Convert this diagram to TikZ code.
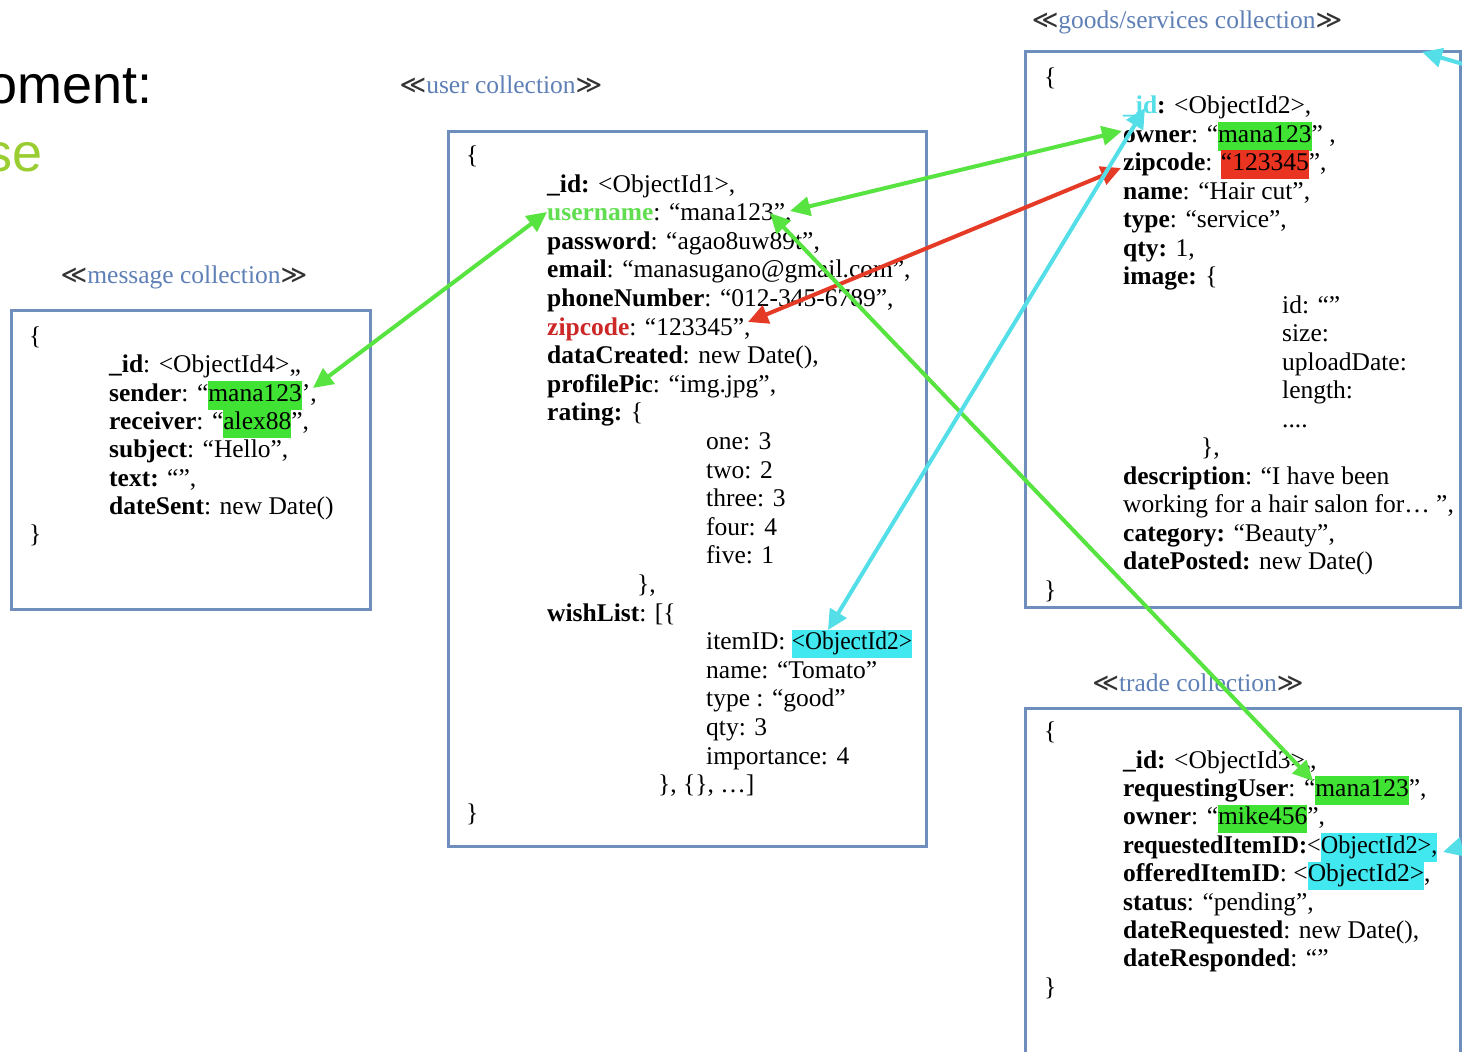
\documentclass[tikz,border=0pt]{standalone}
\usepackage{fontspec}
\setmainfont{Liberation Serif}
\newfontfamily\slidefont{Liberation Sans}
\newfontfamily\symfont{DejaVu Sans}
\usetikzlibrary{arrows.meta}
\definecolor{boxblue}{RGB}{110,142,190}
\definecolor{labelblue}{RGB}{95,128,182}
\definecolor{hlgreen}{RGB}{64,226,52}
\definecolor{hlred}{RGB}{232,52,32}
\definecolor{hlcyan}{RGB}{66,232,240}
\definecolor{argreen}{RGB}{88,228,64}
\definecolor{arred}{RGB}{228,58,38}
\definecolor{arcyan}{RGB}{84,222,232}
\definecolor{keygreen}{RGB}{96,222,80}
\definecolor{keyred}{RGB}{205,40,40}
\definecolor{slidegreen}{RGB}{154,205,50}
\newcommand\docfont{\fontsize{25.5}{28.6}\selectfont}
\newcommand\hlbox[2]{{\setlength\fboxsep{0pt}\colorbox{#1}{\strut #2}}}
\newcommand\hlg[1]{\hlbox{hlgreen}{#1}}
\newcommand\hlr[1]{\hlbox{hlred}{#1}}
\newcommand\hlc[1]{\hlbox{hlcyan}{#1}}
\newcommand\lsym{{\symfont\color{black!80}≪}}
\newcommand\rsym{{\symfont\color{black!80}≫}}
\newcommand\putline[4]{\node[txt] (#1) at (#2,#3) {#4};}
\tikzset{
  txt/.style={anchor=base west, inner sep=0pt, font=\docfont, text=black},
  collabel/.style={anchor=base, inner sep=0pt, font=\docfont, text=labelblue},
  colbox/.style={draw=boxblue, line width=3pt},
  arr/.style={line width=4pt, {Triangle[length=20pt,width=19pt]}-{Triangle[length=20pt,width=19pt]}},
  arrone/.style={line width=4pt, -{Triangle[length=20pt,width=19pt]}},
}
\begin{document}
\begin{tikzpicture}[x=1pt,y=-1pt]
\useasboundingbox (0,0) rectangle (1462,1052);
\clip (0,0) rectangle (1462,1052);
\fill[white] (0,0) rectangle (1462,1052);

% slide title fragments
\node[anchor=base east, inner sep=0pt, font=\slidefont\fontsize{54}{60}\selectfont] (title1) at (153,103) {oment:};
\node[anchor=base east, inner sep=0pt, font=\slidefont\fontsize{54}{60}\selectfont, text=slidegreen] (title2) at (43,171) {se};

% collection labels
\node[collabel] (lmsg) at (184,283) {\lsym message collection\rsym};
\node[collabel] (luser) at (501,93) {\lsym user collection\rsym};
\node[collabel] (lgoods) at (1187,28.5) {\lsym goods/services collection\rsym};
\node[collabel] (ltrade) at (1198,691.5) {\lsym trade collection\rsym};

% boxes
\draw[colbox] (11.5,310) rectangle (370,609);
\draw[colbox] (448.5,131) rectangle (926,846);
\draw[colbox] (1025,51.5) rectangle (1460,607.5);
\draw[colbox] (1025,708) rectangle (1460,1060);

% message collection
\putline{m0}{29}{344.5}{\{}
\putline{m1}{109}{372.8}{\textbf{\_id}: <ObjectId4>„}
\putline{m2}{109}{401.1}{\textbf{sender}: “\hlg{mana123}’,}
\putline{m3}{109}{429.4}{\textbf{receiver}: “\hlg{alex88}”,}
\putline{m4}{109}{457.7}{\textbf{subject}: “Hello”,}
\putline{m5}{109}{486.0}{\textbf{text:} “”,}
\putline{m6}{109}{514.3}{\textbf{dateSent}: new Date()}
\putline{m7}{29}{542.6}{\}}

% user collection
\putline{u0}{466}{163.4}{\{}
\putline{u1}{547}{192.0}{\textbf{\_id:} <ObjectId1>,}
\putline{u2}{547}{220.6}{\textbf{\color{keygreen}username}: “mana123”,}
\putline{u3}{547}{249.2}{\textbf{password}: “agao8uw89t”,}
\putline{u4}{547}{277.8}{\textbf{email}: “manasugano@gmail.com”,}
\putline{u5}{547}{306.4}{\textbf{phoneNumber}: “012-345-6789”,}
\putline{u6}{547}{335.0}{\textbf{\color{keyred}zipcode}: “123345”,}
\putline{u7}{547}{363.6}{\textbf{dataCreated}: new Date(),}
\putline{u8}{547}{392.2}{\textbf{profilePic}: “img.jpg”,}
\putline{u9}{547}{420.8}{\textbf{rating:} \{}
\putline{u10}{706}{449.4}{one: 3}
\putline{u11}{706}{478.0}{two: 2}
\putline{u12}{706}{506.6}{three: 3}
\putline{u13}{706}{535.2}{four: 4}
\putline{u14}{706}{563.8}{five: 1}
\putline{u15}{637}{592.4}{\},}
\putline{u16}{547}{621.0}{\textbf{wishList}: [\{}
\putline{u17}{706}{649.6}{itemID: \hlc{\scalebox{0.92}[1]{<ObjectId2>}}}
\putline{u18}{706}{678.2}{name: “Tomato”}
\putline{u19}{706}{706.8}{type : “good”}
\putline{u20}{706}{735.4}{qty: 3}
\putline{u21}{706}{764.0}{importance: 4}
\putline{u22}{658}{792.6}{\}, \{\}, …]}
\putline{u23}{466}{821.2}{\}}

% goods/services collection
\putline{g0}{1044}{85.0}{\{}
\putline{g1}{1123}{113.5}{\textbf{{\color{arcyan}\_id}:} <ObjectId2>,}
\putline{g2}{1123}{142.0}{\textbf{owner}: “\hlg{mana123}” ,}
\putline{g3}{1123}{170.5}{\textbf{zipcode}: \hlr{“123345}”,}
\putline{g4}{1123}{199.0}{\textbf{name}: “Hair cut”,}
\putline{g5}{1123}{227.5}{\textbf{type}: “service”,}
\putline{g6}{1123}{256.0}{\textbf{qty:} 1,}
\putline{g7}{1123}{284.5}{\textbf{image:} \{}
\putline{g8}{1282}{313.0}{id: “”}
\putline{g9}{1282}{341.5}{size:}
\putline{g10}{1282}{370.0}{uploadDate:}
\putline{g11}{1282}{398.5}{length:}
\putline{g12}{1282}{427.0}{....}
\putline{g13}{1201}{455.5}{\},}
\putline{g14}{1123}{484.0}{\textbf{description}: “I have been}
\putline{g15}{1123}{512.5}{working for a hair salon for… ”,}
\putline{g16}{1123}{541.0}{\textbf{category:} “Beauty”,}
\putline{g17}{1123}{569.5}{\textbf{datePosted:} new Date()}
\putline{g18}{1044}{598.0}{\}}

% trade collection
\putline{t0}{1044}{739.6}{\{}
\putline{t1}{1123}{768.0}{\textbf{\_id:} <ObjectId3>„}
\putline{t2}{1123}{796.4}{\textbf{requestingUser}: “\hlg{mana123}”,}
\putline{t3}{1123}{824.8}{\textbf{owner}: “\hlg{mike456}”,}
\putline{t4}{1123}{853.2}{\scalebox{0.95}[1]{\textbf{requestedItemID:}<\hlc{ObjectId2>,}}}
\putline{t5}{1123}{881.6}{\textbf{offeredItemID}: <\hlc{ObjectId2>},}
\putline{t6}{1123}{910.0}{\textbf{status}: “pending”,}
\putline{t7}{1123}{938.4}{\textbf{dateRequested}: new Date(),}
\putline{t8}{1123}{966.8}{\textbf{dateResponded}: “”}
\putline{t9}{1044}{995.2}{\}}

% connector end points
\coordinate (msgSender) at (313,388);
\coordinate (userName) at (547,212);
\coordinate (userNameVal) at (790,211);
\coordinate (goodsOwner) at (1122,131);
\coordinate (userZip) at (748,322);
\coordinate (goodsZip) at (1121,168);
\coordinate (userNameVal2) at (770,213);
\coordinate (tradeUser) at (1313,781);
\coordinate (goodsId) at (1145,108);
\coordinate (wishItem) at (828,630);
\coordinate (offR1) at (1490,72);
\coordinate (goodsCorner) at (1422,52);
\coordinate (offR2) at (1495,838);
\coordinate (tradeReq) at (1443,852);

% connectors
\draw[arr, draw=argreen, fill=argreen] (msgSender) -- (userName);
\draw[arr, draw=argreen, fill=argreen] (userNameVal) -- (goodsOwner);
\draw[arr, draw=arred, fill=arred] (userZip) -- (goodsZip);
\draw[arr, draw=argreen, fill=argreen] (userNameVal2) -- (tradeUser);
\draw[arr, draw=arcyan, fill=arcyan] (wishItem) -- (goodsId);
\draw[arrone, draw=arcyan, fill=arcyan] (offR1) -- (goodsCorner);
\draw[arrone, draw=arcyan, fill=arcyan] (offR2) -- (tradeReq);
\end{tikzpicture}
\end{document}
